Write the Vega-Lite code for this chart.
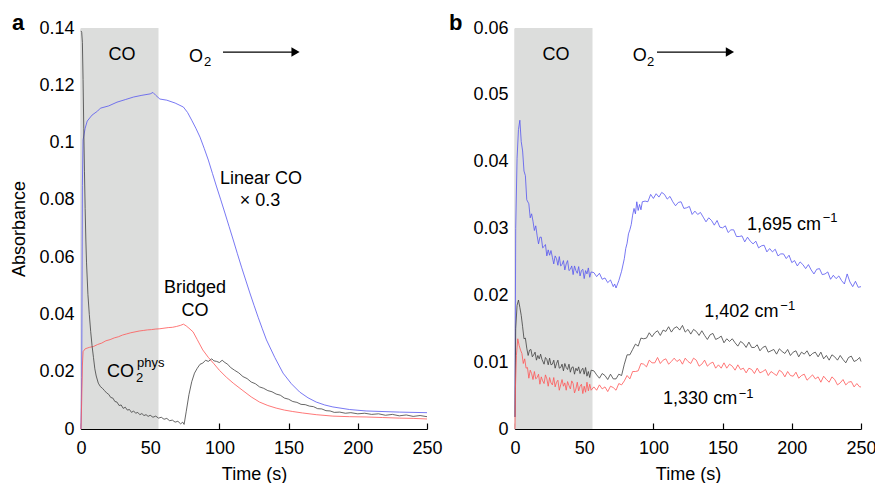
{
  "$schema": "https://vega.github.io/schema/vega-lite/v6.json",
  "padding": {"left": 10, "top": 12, "right": 0, "bottom": 0},
  "spacing": 5,
  "config": {
    "view": {"stroke": null},
    "font": "Liberation Sans",
    "axis": {"grid": false, "labelFontSize": 18, "titleFontSize": 18, "titleFontWeight": "normal", "labelColor": "#000", "titleColor": "#000", "domainColor": "#000", "tickColor": "#000", "domainWidth": 1.2, "tickWidth": 1.2, "labelFont": "Liberation Sans", "titleFont": "Liberation Sans"},
    "text": {"font": "Liberation Sans", "color": "#000"}
  },
  "datasets": {
    "A": [
      {"s":"blue","t":0,"v":0},{"s":"blue","t":0.5,"v":0.018},{"s":"blue","t":1,"v":0.085},{"s":"blue","t":1.5,"v":0.1009},{"s":"blue","t":3,"v":0.105},{"s":"blue","t":4.5,"v":0.1075},{"s":"blue","t":8,"v":0.1096},{"s":"blue","t":12,"v":0.111},{"s":"blue","t":14,"v":0.112},{"s":"blue","t":20,"v":0.1128},{"s":"blue","t":26,"v":0.1141},{"s":"blue","t":32,"v":0.115},{"s":"blue","t":38,"v":0.1159},{"s":"blue","t":44,"v":0.1165},{"s":"blue","t":50,"v":0.117},{"s":"blue","t":52,"v":0.1175},{"s":"blue","t":54,"v":0.1165},{"s":"blue","t":57,"v":0.1152},{"s":"blue","t":62,"v":0.1148},{"s":"blue","t":68,"v":0.1138},{"s":"blue","t":74,"v":0.1124},{"s":"blue","t":77,"v":0.1105},{"s":"blue","t":80,"v":0.1078},{"s":"blue","t":83,"v":0.105},{"s":"blue","t":86,"v":0.1019},{"s":"blue","t":89,"v":0.098},{"s":"blue","t":92,"v":0.0939},{"s":"blue","t":95,"v":0.0892},{"s":"blue","t":98,"v":0.0845},{"s":"blue","t":101,"v":0.08},{"s":"blue","t":104,"v":0.0754},{"s":"blue","t":107,"v":0.0707},{"s":"blue","t":110,"v":0.066},{"s":"blue","t":113,"v":0.0612},{"s":"blue","t":116,"v":0.0565},{"s":"blue","t":119,"v":0.052},{"s":"blue","t":122,"v":0.0475},{"s":"blue","t":125,"v":0.0432},{"s":"blue","t":128,"v":0.039},{"s":"blue","t":131,"v":0.035},{"s":"blue","t":134,"v":0.0311},{"s":"blue","t":140,"v":0.025},{"s":"blue","t":146,"v":0.0195},{"s":"blue","t":152,"v":0.0158},{"s":"blue","t":158,"v":0.0129},{"s":"blue","t":164,"v":0.0109},{"s":"blue","t":170,"v":0.0094},{"s":"blue","t":176,"v":0.0084},{"s":"blue","t":182,"v":0.0077},{"s":"blue","t":194,"v":0.0068},{"s":"blue","t":206,"v":0.0063},{"s":"blue","t":230,"v":0.0059},{"s":"blue","t":250,"v":0.0057},
      {"s":"red","t":0,"v":0},{"s":"red","t":0.5,"v":0.01},{"s":"red","t":1,"v":0.022},{"s":"red","t":1.5,"v":0.027},{"s":"red","t":3,"v":0.028},{"s":"red","t":6,"v":0.0285},{"s":"red","t":9,"v":0.0288},{"s":"red","t":12,"v":0.0295},{"s":"red","t":15,"v":0.03},{"s":"red","t":18,"v":0.0308},{"s":"red","t":21,"v":0.0312},{"s":"red","t":24,"v":0.0318},{"s":"red","t":27,"v":0.0322},{"s":"red","t":30,"v":0.0328},{"s":"red","t":33,"v":0.0332},{"s":"red","t":36,"v":0.0336},{"s":"red","t":39,"v":0.0339},{"s":"red","t":42,"v":0.0342},{"s":"red","t":45,"v":0.0344},{"s":"red","t":48,"v":0.0346},{"s":"red","t":51,"v":0.0347},{"s":"red","t":54,"v":0.0349},{"s":"red","t":57,"v":0.035},{"s":"red","t":60,"v":0.0352},{"s":"red","t":63,"v":0.0354},{"s":"red","t":66,"v":0.0355},{"s":"red","t":69,"v":0.0358},{"s":"red","t":72,"v":0.0362},{"s":"red","t":74,"v":0.0366},{"s":"red","t":76,"v":0.036},{"s":"red","t":78,"v":0.0352},{"s":"red","t":81,"v":0.0339},{"s":"red","t":84,"v":0.0312},{"s":"red","t":88,"v":0.0276},{"s":"red","t":92,"v":0.025},{"s":"red","t":96,"v":0.0228},{"s":"red","t":100,"v":0.0205},{"s":"red","t":105,"v":0.0181},{"s":"red","t":110,"v":0.016},{"s":"red","t":117,"v":0.0134},{"s":"red","t":123,"v":0.0112},{"s":"red","t":129,"v":0.0094},{"s":"red","t":135,"v":0.0082},{"s":"red","t":141,"v":0.0073},{"s":"red","t":147,"v":0.0066},{"s":"red","t":153,"v":0.0061},{"s":"red","t":160,"v":0.0056},{"s":"red","t":170,"v":0.005},{"s":"red","t":182,"v":0.0045},{"s":"red","t":194,"v":0.0043},{"s":"red","t":206,"v":0.0042},{"s":"red","t":218,"v":0.004},{"s":"red","t":230,"v":0.0038},{"s":"red","t":240,"v":0.0037},{"s":"red","t":250,"v":0.0035},
      {"s":"black","t":0,"v":0.139},{"s":"black","t":0.5,"v":0.1385},{"s":"black","t":1,"v":0.135},{"s":"black","t":1.5,"v":0.122},{"s":"black","t":2,"v":0.105},{"s":"black","t":2.5,"v":0.09},{"s":"black","t":3,"v":0.077},{"s":"black","t":3.5,"v":0.066},{"s":"black","t":4,"v":0.058},{"s":"black","t":5,"v":0.047},{"s":"black","t":6,"v":0.04},{"s":"black","t":7,"v":0.034},{"s":"black","t":8,"v":0.029},{"s":"black","t":9,"v":0.025},{"s":"black","t":10,"v":0.021},{"s":"black","t":11,"v":0.0185},{"s":"black","t":12.5,"v":0.016},{"s":"black","t":14,"v":0.0148},{"s":"black","t":15.5,"v":0.0142},{"s":"black","t":17,"v":0.0134},{"s":"black","t":18.5,"v":0.0126},{"s":"black","t":20,"v":0.0121},{"s":"black","t":21.5,"v":0.011},{"s":"black","t":23,"v":0.0108},{"s":"black","t":24.5,"v":0.0096},{"s":"black","t":26,"v":0.0094},{"s":"black","t":27.5,"v":0.0082},{"s":"black","t":29,"v":0.0084},{"s":"black","t":30.5,"v":0.0072},{"s":"black","t":32,"v":0.0076},{"s":"black","t":33.5,"v":0.0066},{"s":"black","t":35,"v":0.0068},{"s":"black","t":36.5,"v":0.0058},{"s":"black","t":38,"v":0.0063},{"s":"black","t":39.5,"v":0.0055},{"s":"black","t":41,"v":0.0058},{"s":"black","t":42.5,"v":0.005},{"s":"black","t":44,"v":0.0054},{"s":"black","t":45.5,"v":0.0047},{"s":"black","t":47,"v":0.005},{"s":"black","t":48.5,"v":0.0044},{"s":"black","t":50,"v":0.0048},{"s":"black","t":52,"v":0.0041},{"s":"black","t":54,"v":0.0045},{"s":"black","t":56,"v":0.0038},{"s":"black","t":58,"v":0.0041},{"s":"black","t":60,"v":0.0034},{"s":"black","t":62,"v":0.0037},{"s":"black","t":64,"v":0.0029},{"s":"black","t":66,"v":0.0031},{"s":"black","t":68,"v":0.0024},{"s":"black","t":70,"v":0.0027},{"s":"black","t":72,"v":0.0018},{"s":"black","t":73.5,"v":0.0024},{"s":"black","t":74.5,"v":0.0016},{"s":"black","t":76,"v":0.006},{"s":"black","t":78,"v":0.012},{"s":"black","t":80,"v":0.0165},{"s":"black","t":82,"v":0.0195},{"s":"black","t":84,"v":0.0212},{"s":"black","t":86,"v":0.0226},{"s":"black","t":88,"v":0.023},{"s":"black","t":90,"v":0.024},{"s":"black","t":92,"v":0.0236},{"s":"black","t":94.5,"v":0.0245},{"s":"black","t":96,"v":0.0238},{"s":"black","t":98,"v":0.0236},{"s":"black","t":100,"v":0.0232},{"s":"black","t":102,"v":0.024},{"s":"black","t":104,"v":0.0232},{"s":"black","t":106,"v":0.0226},{"s":"black","t":108,"v":0.0215},{"s":"black","t":111,"v":0.0205},{"s":"black","t":114,"v":0.0196},{"s":"black","t":117,"v":0.0183},{"s":"black","t":120,"v":0.0176},{"s":"black","t":123,"v":0.0164},{"s":"black","t":126,"v":0.0158},{"s":"black","t":129,"v":0.0147},{"s":"black","t":132,"v":0.0142},{"s":"black","t":135,"v":0.0134},{"s":"black","t":138,"v":0.013},{"s":"black","t":141,"v":0.0122},{"s":"black","t":144,"v":0.0118},{"s":"black","t":147,"v":0.0108},{"s":"black","t":150,"v":0.0104},{"s":"black","t":153,"v":0.0096},{"s":"black","t":156,"v":0.0093},{"s":"black","t":159,"v":0.0086},{"s":"black","t":162,"v":0.0085},{"s":"black","t":165,"v":0.008},{"s":"black","t":168,"v":0.0078},{"s":"black","t":171,"v":0.0071},{"s":"black","t":174,"v":0.007},{"s":"black","t":177,"v":0.0064},{"s":"black","t":180,"v":0.0063},{"s":"black","t":183,"v":0.0058},{"s":"black","t":187,"v":0.0059},{"s":"black","t":191,"v":0.0055},{"s":"black","t":195,"v":0.0057},{"s":"black","t":200,"v":0.0053},{"s":"black","t":205,"v":0.0055},{"s":"black","t":210,"v":0.0051},{"s":"black","t":215,"v":0.0053},{"s":"black","t":220,"v":0.0048},{"s":"black","t":225,"v":0.0051},{"s":"black","t":230,"v":0.0046},{"s":"black","t":235,"v":0.0049},{"s":"black","t":240,"v":0.0044},{"s":"black","t":245,"v":0.0047},{"s":"black","t":250,"v":0.0043}
    ],
    "B": [
      {"s":"blue","t":0,"v":0.0018},{"s":"blue","t":0.5,"v":0.03},{"s":"blue","t":1.5,"v":0.0405},{"s":"blue","t":2.5,"v":0.0448},{"s":"blue","t":3.5,"v":0.0462},{"s":"blue","t":4.5,"v":0.043},{"s":"blue","t":5.5,"v":0.0416},{"s":"blue","t":6.5,"v":0.0386},{"s":"blue","t":7.5,"v":0.0379},{"s":"blue","t":8.5,"v":0.0343},{"s":"blue","t":10,"v":0.0337},{"s":"blue","t":11,"v":0.0316},{"s":"blue","t":12,"v":0.0322},{"s":"blue","t":13,"v":0.0311},{"s":"blue","t":14,"v":0.0297},{"s":"blue","t":15,"v":0.0304},{"s":"blue","t":16,"v":0.0289},{"s":"blue","t":17,"v":0.0277},{"s":"blue","t":18,"v":0.0287},{"s":"blue","t":19,"v":0.0287},{"s":"blue","t":20,"v":0.0271},{"s":"blue","t":21,"v":0.0273},{"s":"blue","t":22,"v":0.0276},{"s":"blue","t":23,"v":0.0259},{"s":"blue","t":24,"v":0.0268},{"s":"blue","t":25,"v":0.026},{"s":"blue","t":26,"v":0.0267},{"s":"blue","t":27,"v":0.0257},{"s":"blue","t":28,"v":0.0247},{"s":"blue","t":29,"v":0.0259},{"s":"blue","t":30,"v":0.0255},{"s":"blue","t":31,"v":0.0245},{"s":"blue","t":32,"v":0.0258},{"s":"blue","t":33,"v":0.0244},{"s":"blue","t":34,"v":0.0246},{"s":"blue","t":35,"v":0.0252},{"s":"blue","t":36,"v":0.0238},{"s":"blue","t":37,"v":0.0247},{"s":"blue","t":38,"v":0.0252},{"s":"blue","t":39,"v":0.0237},{"s":"blue","t":40,"v":0.0239},{"s":"blue","t":41,"v":0.0244},{"s":"blue","t":42,"v":0.0231},{"s":"blue","t":43,"v":0.0244},{"s":"blue","t":44,"v":0.0237},{"s":"blue","t":45,"v":0.0233},{"s":"blue","t":46,"v":0.0243},{"s":"blue","t":47,"v":0.0229},{"s":"blue","t":48,"v":0.0237},{"s":"blue","t":49,"v":0.0239},{"s":"blue","t":50,"v":0.0225},{"s":"blue","t":51,"v":0.0237},{"s":"blue","t":52,"v":0.0232},{"s":"blue","t":53,"v":0.0241},{"s":"blue","t":54,"v":0.0227},{"s":"blue","t":55,"v":0.0235},{"s":"blue","t":57,"v":0.0234},{"s":"blue","t":59,"v":0.0228},{"s":"blue","t":61,"v":0.0233},{"s":"blue","t":63,"v":0.0224},{"s":"blue","t":65,"v":0.0226},{"s":"blue","t":67,"v":0.0219},{"s":"blue","t":69,"v":0.0223},{"s":"blue","t":70,"v":0.0218},{"s":"blue","t":71,"v":0.0213},{"s":"blue","t":72,"v":0.0217},{"s":"blue","t":73,"v":0.0211},{"s":"blue","t":75,"v":0.0222},{"s":"blue","t":77,"v":0.0236},{"s":"blue","t":79,"v":0.0255},{"s":"blue","t":80,"v":0.027},{"s":"blue","t":81,"v":0.0278},{"s":"blue","t":82,"v":0.0292},{"s":"blue","t":83,"v":0.0298},{"s":"blue","t":84,"v":0.0306},{"s":"blue","t":85,"v":0.032},{"s":"blue","t":86,"v":0.033},{"s":"blue","t":87,"v":0.0322},{"s":"blue","t":88,"v":0.034},{"s":"blue","t":89,"v":0.0327},{"s":"blue","t":90,"v":0.0336},{"s":"blue","t":91,"v":0.0328},{"s":"blue","t":92,"v":0.034},{"s":"blue","t":94,"v":0.0341},{"s":"blue","t":96,"v":0.034},{"s":"blue","t":98,"v":0.0351},{"s":"blue","t":100,"v":0.0345},{"s":"blue","t":102,"v":0.0352},{"s":"blue","t":104,"v":0.0347},{"s":"blue","t":106,"v":0.0354},{"s":"blue","t":108,"v":0.0351},{"s":"blue","t":110,"v":0.0344},{"s":"blue","t":112,"v":0.0348},{"s":"blue","t":114,"v":0.034},{"s":"blue","t":116,"v":0.0334},{"s":"blue","t":118,"v":0.0339},{"s":"blue","t":120,"v":0.034},{"s":"blue","t":122,"v":0.033},{"s":"blue","t":124,"v":0.0331},{"s":"blue","t":126,"v":0.0333},{"s":"blue","t":128,"v":0.0321},{"s":"blue","t":130,"v":0.0326},{"s":"blue","t":132,"v":0.0321},{"s":"blue","t":134,"v":0.0324},{"s":"blue","t":136,"v":0.0317},{"s":"blue","t":138,"v":0.031},{"s":"blue","t":140,"v":0.0316},{"s":"blue","t":142,"v":0.0312},{"s":"blue","t":144,"v":0.0305},{"s":"blue","t":146,"v":0.0312},{"s":"blue","t":148,"v":0.0302},{"s":"blue","t":150,"v":0.0301},{"s":"blue","t":152,"v":0.0304},{"s":"blue","t":154,"v":0.0294},{"s":"blue","t":156,"v":0.0298},{"s":"blue","t":158,"v":0.0298},{"s":"blue","t":160,"v":0.0288},{"s":"blue","t":162,"v":0.0288},{"s":"blue","t":164,"v":0.0289},{"s":"blue","t":166,"v":0.028},{"s":"blue","t":168,"v":0.0287},{"s":"blue","t":170,"v":0.0281},{"s":"blue","t":172,"v":0.0277},{"s":"blue","t":174,"v":0.0281},{"s":"blue","t":176,"v":0.0271},{"s":"blue","t":178,"v":0.0274},{"s":"blue","t":180,"v":0.0275},{"s":"blue","t":182,"v":0.0265},{"s":"blue","t":184,"v":0.027},{"s":"blue","t":186,"v":0.0265},{"s":"blue","t":188,"v":0.0269},{"s":"blue","t":190,"v":0.0259},{"s":"blue","t":192,"v":0.0262},{"s":"blue","t":194,"v":0.0262},{"s":"blue","t":196,"v":0.0255},{"s":"blue","t":198,"v":0.026},{"s":"blue","t":200,"v":0.0249},{"s":"blue","t":202,"v":0.0252},{"s":"blue","t":204,"v":0.0244},{"s":"blue","t":206,"v":0.025},{"s":"blue","t":208,"v":0.0246},{"s":"blue","t":210,"v":0.024},{"s":"blue","t":212,"v":0.0246},{"s":"blue","t":214,"v":0.0238},{"s":"blue","t":216,"v":0.0232},{"s":"blue","t":218,"v":0.0239},{"s":"blue","t":220,"v":0.024},{"s":"blue","t":222,"v":0.0231},{"s":"blue","t":224,"v":0.0232},{"s":"blue","t":226,"v":0.0235},{"s":"blue","t":228,"v":0.0224},{"s":"blue","t":230,"v":0.023},{"s":"blue","t":232,"v":0.0225},{"s":"blue","t":234,"v":0.0229},{"s":"blue","t":236,"v":0.0222},{"s":"blue","t":238,"v":0.0217},{"s":"blue","t":240,"v":0.0232},{"s":"blue","t":242,"v":0.022},{"s":"blue","t":244,"v":0.0213},{"s":"blue","t":246,"v":0.0221},{"s":"blue","t":248,"v":0.0212},{"s":"blue","t":250,"v":0.0213},
      {"s":"black","t":0,"v":0.0018},{"s":"black","t":0.5,"v":0.015},{"s":"black","t":1.5,"v":0.0185},{"s":"black","t":2.5,"v":0.0193},{"s":"black","t":3.5,"v":0.0182},{"s":"black","t":4.5,"v":0.017},{"s":"black","t":5.5,"v":0.0153},{"s":"black","t":6.5,"v":0.0135},{"s":"black","t":7.5,"v":0.0136},{"s":"black","t":8.5,"v":0.0121},{"s":"black","t":9.5,"v":0.011},{"s":"black","t":10.5,"v":0.0118},{"s":"black","t":11.5,"v":0.0119},{"s":"black","t":12.5,"v":0.0108},{"s":"black","t":13.5,"v":0.0111},{"s":"black","t":14.5,"v":0.0115},{"s":"black","t":15.5,"v":0.0103},{"s":"black","t":16.5,"v":0.011},{"s":"black","t":17.5,"v":0.0105},{"s":"black","t":18.5,"v":0.0112},{"s":"black","t":19.5,"v":0.0104},{"s":"black","t":21,"v":0.0097},{"s":"black","t":22,"v":0.0107},{"s":"black","t":23,"v":0.0104},{"s":"black","t":24,"v":0.0096},{"s":"black","t":25,"v":0.0106},{"s":"black","t":26,"v":0.0096},{"s":"black","t":27,"v":0.0097},{"s":"black","t":28,"v":0.0103},{"s":"black","t":29,"v":0.0091},{"s":"black","t":30,"v":0.0098},{"s":"black","t":31,"v":0.0103},{"s":"black","t":32,"v":0.0091},{"s":"black","t":33,"v":0.0092},{"s":"black","t":34,"v":0.0097},{"s":"black","t":35,"v":0.0087},{"s":"black","t":36,"v":0.0098},{"s":"black","t":37,"v":0.0092},{"s":"black","t":38,"v":0.0089},{"s":"black","t":39,"v":0.0097},{"s":"black","t":40,"v":0.0085},{"s":"black","t":41,"v":0.0092},{"s":"black","t":42,"v":0.0093},{"s":"black","t":43,"v":0.0082},{"s":"black","t":44,"v":0.0091},{"s":"black","t":45,"v":0.0087},{"s":"black","t":46,"v":0.0093},{"s":"black","t":47,"v":0.0083},{"s":"black","t":48,"v":0.0088},{"s":"black","t":49,"v":0.0091},{"s":"black","t":50,"v":0.0082},{"s":"black","t":51,"v":0.0092},{"s":"black","t":52,"v":0.0079},{"s":"black","t":53,"v":0.0086},{"s":"black","t":54,"v":0.0077},{"s":"black","t":55,"v":0.0088},{"s":"black","t":57,"v":0.0087},{"s":"black","t":59,"v":0.0081},{"s":"black","t":61,"v":0.0076},{"s":"black","t":63,"v":0.0083},{"s":"black","t":65,"v":0.008},{"s":"black","t":67,"v":0.0074},{"s":"black","t":69,"v":0.0082},{"s":"black","t":71,"v":0.0075},{"s":"black","t":73,"v":0.0075},{"s":"black","t":75,"v":0.0082},{"s":"black","t":77,"v":0.008},{"s":"black","t":79,"v":0.0097},{"s":"black","t":81,"v":0.0111},{"s":"black","t":83,"v":0.0111},{"s":"black","t":85,"v":0.0119},{"s":"black","t":87,"v":0.0127},{"s":"black","t":89,"v":0.0124},{"s":"black","t":91,"v":0.0136},{"s":"black","t":93,"v":0.0135},{"s":"black","t":95,"v":0.0136},{"s":"black","t":97,"v":0.0144},{"s":"black","t":99,"v":0.0138},{"s":"black","t":101,"v":0.0144},{"s":"black","t":103,"v":0.0147},{"s":"black","t":105,"v":0.014},{"s":"black","t":107,"v":0.0148},{"s":"black","t":109,"v":0.0146},{"s":"black","t":111,"v":0.0153},{"s":"black","t":113,"v":0.0145},{"s":"black","t":115,"v":0.0151},{"s":"black","t":117,"v":0.0153},{"s":"black","t":119,"v":0.0148},{"s":"black","t":121,"v":0.0155},{"s":"black","t":123,"v":0.0145},{"s":"black","t":125,"v":0.0149},{"s":"black","t":127,"v":0.0142},{"s":"black","t":129,"v":0.0149},{"s":"black","t":131,"v":0.0146},{"s":"black","t":133,"v":0.014},{"s":"black","t":135,"v":0.0147},{"s":"black","t":137,"v":0.014},{"s":"black","t":139,"v":0.0134},{"s":"black","t":141,"v":0.0141},{"s":"black","t":143,"v":0.0143},{"s":"black","t":145,"v":0.0134},{"s":"black","t":147,"v":0.0136},{"s":"black","t":149,"v":0.0139},{"s":"black","t":151,"v":0.0129},{"s":"black","t":153,"v":0.0135},{"s":"black","t":155,"v":0.0131},{"s":"black","t":157,"v":0.0135},{"s":"black","t":159,"v":0.0129},{"s":"black","t":161,"v":0.0124},{"s":"black","t":163,"v":0.0131},{"s":"black","t":165,"v":0.0128},{"s":"black","t":167,"v":0.0122},{"s":"black","t":169,"v":0.013},{"s":"black","t":171,"v":0.0122},{"s":"black","t":173,"v":0.0122},{"s":"black","t":175,"v":0.0126},{"s":"black","t":177,"v":0.0117},{"s":"black","t":179,"v":0.0122},{"s":"black","t":181,"v":0.0124},{"s":"black","t":183,"v":0.0115},{"s":"black","t":185,"v":0.0117},{"s":"black","t":187,"v":0.0119},{"s":"black","t":189,"v":0.0112},{"s":"black","t":191,"v":0.012},{"s":"black","t":193,"v":0.0116},{"s":"black","t":195,"v":0.0113},{"s":"black","t":197,"v":0.0119},{"s":"black","t":199,"v":0.011},{"s":"black","t":201,"v":0.0115},{"s":"black","t":203,"v":0.0117},{"s":"black","t":205,"v":0.0108},{"s":"black","t":207,"v":0.0115},{"s":"black","t":209,"v":0.0112},{"s":"black","t":211,"v":0.0117},{"s":"black","t":213,"v":0.0109},{"s":"black","t":215,"v":0.0113},{"s":"black","t":217,"v":0.0115},{"s":"black","t":219,"v":0.0108},{"s":"black","t":221,"v":0.0115},{"s":"black","t":223,"v":0.0105},{"s":"black","t":225,"v":0.011},{"s":"black","t":227,"v":0.0103},{"s":"black","t":229,"v":0.0111},{"s":"black","t":231,"v":0.0108},{"s":"black","t":233,"v":0.0103},{"s":"black","t":235,"v":0.011},{"s":"black","t":237,"v":0.0104},{"s":"black","t":239,"v":0.0099},{"s":"black","t":241,"v":0.0107},{"s":"black","t":243,"v":0.0109},{"s":"black","t":245,"v":0.0101},{"s":"black","t":247,"v":0.0103},{"s":"black","t":249,"v":0.0107},{"s":"black","t":250,"v":0.0101},
      {"s":"red","t":0,"v":0},{"s":"red","t":0.3,"v":0.006},{"s":"red","t":1,"v":0.011},{"s":"red","t":2,"v":0.0135},{"s":"red","t":3,"v":0.0125},{"s":"red","t":4,"v":0.0118},{"s":"red","t":5,"v":0.0113},{"s":"red","t":6,"v":0.0098},{"s":"red","t":7,"v":0.0105},{"s":"red","t":8,"v":0.0091},{"s":"red","t":9,"v":0.0092},{"s":"red","t":10,"v":0.0076},{"s":"red","t":11,"v":0.0088},{"s":"red","t":12,"v":0.0083},{"s":"red","t":13,"v":0.0074},{"s":"red","t":14,"v":0.0086},{"s":"red","t":15,"v":0.0075},{"s":"red","t":16,"v":0.0077},{"s":"red","t":17,"v":0.0082},{"s":"red","t":18,"v":0.0067},{"s":"red","t":19,"v":0.0078},{"s":"red","t":20,"v":0.0072},{"s":"red","t":21,"v":0.0068},{"s":"red","t":22,"v":0.0081},{"s":"red","t":23,"v":0.0075},{"s":"red","t":24,"v":0.0064},{"s":"red","t":25,"v":0.0077},{"s":"red","t":26,"v":0.0069},{"s":"red","t":27,"v":0.0066},{"s":"red","t":28,"v":0.0077},{"s":"red","t":29,"v":0.0063},{"s":"red","t":30,"v":0.007},{"s":"red","t":31,"v":0.0073},{"s":"red","t":32,"v":0.0058},{"s":"red","t":33,"v":0.0066},{"s":"red","t":34,"v":0.0074},{"s":"red","t":35,"v":0.0064},{"s":"red","t":36,"v":0.0069},{"s":"red","t":37,"v":0.0058},{"s":"red","t":38,"v":0.0071},{"s":"red","t":39,"v":0.0065},{"s":"red","t":40,"v":0.006},{"s":"red","t":41,"v":0.0072},{"s":"red","t":42,"v":0.0068},{"s":"red","t":43,"v":0.0054},{"s":"red","t":44,"v":0.006},{"s":"red","t":45,"v":0.007},{"s":"red","t":46,"v":0.0057},{"s":"red","t":47,"v":0.0064},{"s":"red","t":48,"v":0.0067},{"s":"red","t":49,"v":0.0053},{"s":"red","t":50,"v":0.0064},{"s":"red","t":51,"v":0.0055},{"s":"red","t":52,"v":0.007},{"s":"red","t":53,"v":0.0057},{"s":"red","t":54,"v":0.0067},{"s":"red","t":55,"v":0.0058},{"s":"red","t":57,"v":0.0063},{"s":"red","t":59,"v":0.0058},{"s":"red","t":61,"v":0.0066},{"s":"red","t":63,"v":0.006},{"s":"red","t":65,"v":0.0063},{"s":"red","t":67,"v":0.0056},{"s":"red","t":69,"v":0.0064},{"s":"red","t":71,"v":0.0062},{"s":"red","t":73,"v":0.0058},{"s":"red","t":75,"v":0.0068},{"s":"red","t":77,"v":0.0066},{"s":"red","t":79,"v":0.0072},{"s":"red","t":81,"v":0.008},{"s":"red","t":83,"v":0.0075},{"s":"red","t":85,"v":0.0086},{"s":"red","t":87,"v":0.0086},{"s":"red","t":89,"v":0.0087},{"s":"red","t":91,"v":0.0098},{"s":"red","t":93,"v":0.0097},{"s":"red","t":95,"v":0.0093},{"s":"red","t":97,"v":0.0103},{"s":"red","t":99,"v":0.0099},{"s":"red","t":101,"v":0.0099},{"s":"red","t":103,"v":0.0107},{"s":"red","t":105,"v":0.0098},{"s":"red","t":107,"v":0.0103},{"s":"red","t":109,"v":0.0105},{"s":"red","t":111,"v":0.0097},{"s":"red","t":113,"v":0.0101},{"s":"red","t":115,"v":0.0106},{"s":"red","t":117,"v":0.0101},{"s":"red","t":119,"v":0.0104},{"s":"red","t":121,"v":0.0097},{"s":"red","t":123,"v":0.0106},{"s":"red","t":125,"v":0.0101},{"s":"red","t":127,"v":0.0098},{"s":"red","t":129,"v":0.0106},{"s":"red","t":131,"v":0.0103},{"s":"red","t":133,"v":0.0094},{"s":"red","t":135,"v":0.0097},{"s":"red","t":137,"v":0.0103},{"s":"red","t":139,"v":0.0094},{"s":"red","t":141,"v":0.0098},{"s":"red","t":143,"v":0.01},{"s":"red","t":145,"v":0.0091},{"s":"red","t":147,"v":0.0096},{"s":"red","t":149,"v":0.0091},{"s":"red","t":151,"v":0.0099},{"s":"red","t":153,"v":0.0091},{"s":"red","t":155,"v":0.0097},{"s":"red","t":157,"v":0.0094},{"s":"red","t":159,"v":0.0088},{"s":"red","t":161,"v":0.0096},{"s":"red","t":163,"v":0.0089},{"s":"red","t":165,"v":0.0091},{"s":"red","t":167,"v":0.0084},{"s":"red","t":169,"v":0.0091},{"s":"red","t":171,"v":0.0089},{"s":"red","t":173,"v":0.0083},{"s":"red","t":175,"v":0.0091},{"s":"red","t":177,"v":0.0084},{"s":"red","t":179,"v":0.0086},{"s":"red","t":181,"v":0.0089},{"s":"red","t":183,"v":0.008},{"s":"red","t":185,"v":0.0086},{"s":"red","t":187,"v":0.0083},{"s":"red","t":189,"v":0.008},{"s":"red","t":191,"v":0.0088},{"s":"red","t":193,"v":0.0085},{"s":"red","t":195,"v":0.0078},{"s":"red","t":197,"v":0.0086},{"s":"red","t":199,"v":0.008},{"s":"red","t":201,"v":0.0079},{"s":"red","t":203,"v":0.0085},{"s":"red","t":205,"v":0.0076},{"s":"red","t":207,"v":0.008},{"s":"red","t":209,"v":0.0082},{"s":"red","t":211,"v":0.0073},{"s":"red","t":213,"v":0.0077},{"s":"red","t":215,"v":0.0081},{"s":"red","t":217,"v":0.0075},{"s":"red","t":219,"v":0.0078},{"s":"red","t":221,"v":0.007},{"s":"red","t":223,"v":0.0079},{"s":"red","t":225,"v":0.0074},{"s":"red","t":227,"v":0.007},{"s":"red","t":229,"v":0.0078},{"s":"red","t":231,"v":0.0074},{"s":"red","t":233,"v":0.0066},{"s":"red","t":235,"v":0.0069},{"s":"red","t":237,"v":0.0074},{"s":"red","t":239,"v":0.0066},{"s":"red","t":241,"v":0.007},{"s":"red","t":243,"v":0.0071},{"s":"red","t":245,"v":0.0063},{"s":"red","t":247,"v":0.0068},{"s":"red","t":249,"v":0.0063},{"s":"red","t":250,"v":0.0063}
    ]
  },
  "hconcat": [
    {
      "width": 346,
      "height": 401,
      "encoding": {
        "x": {"field": "t", "type": "quantitative", "scale": {"domain": [0, 250], "nice": false},
              "axis": {"title": "Time (s)", "values": [0, 50, 100, 150, 200, 250], "tickSize": -6, "labelPadding": 16, "labelFlush": false, "titlePadding": 8, "titleFontWeight": "normal"}},
        "y": {"field": "v", "type": "quantitative", "scale": {"domain": [0, 0.14], "nice": false},
              "axis": {"title": "Absorbance", "values": [0, 0.02, 0.04, 0.06, 0.08, 0.1, 0.12, 0.14], "format": "~g", "ticks": false, "labelPadding": 7, "titlePadding": 10, "titleFontWeight": "normal"}}
      },
      "layer": [
        {"data": {"values": [{"t": 0, "t2": 56, "v": 0.14}]}, "mark": {"type": "rect", "color": "#dcdddc"},
         "encoding": {"x2": {"field": "t2"}, "y2": {"datum": 0}}},
        {"data": {"name": "A"}, "mark": {"type": "line", "strokeWidth": 0.8},
         "encoding": {"color": {"field": "s", "type": "nominal", "scale": {"domain": ["blue", "red", "black"], "range": ["#5555f0", "#ff5555", "#404040"]}, "legend": null}}},
        {"data": {"values": [{"label": "CO", "t": 29.6, "v": 0.1288}, {"label": "Linear CO", "t": 130, "v": 0.0855}, {"label": "× 0.3", "t": 129.3, "v": 0.0778}, {"label": "Bridged", "t": 82.4, "v": 0.0474}, {"label": "CO", "t": 82.4, "v": 0.0395}]},
         "mark": {"type": "text", "fontSize": 18, "align": "center", "baseline": "alphabetic"},
         "encoding": {"text": {"field": "label"}}},
        {"data": {"values": [{"label": "O", "t": 78, "v": 0.1282}, {"label": "CO", "t": 18.8, "v": 0.01826}]},
         "mark": {"type": "text", "fontSize": 18, "align": "left", "baseline": "alphabetic"},
         "encoding": {"text": {"field": "label"}}},
        {"data": {"values": [{"label": "2", "t": 88.9, "v": 0.1268}, {"label": "2", "t": 39.7, "v": 0.0165}, {"label": "phys", "t": 40.5, "v": 0.0217}]},
         "mark": {"type": "text", "fontSize": 13, "align": "left", "baseline": "alphabetic"},
         "encoding": {"text": {"field": "label"}}},
        {"data": {"values": [{"label": "a", "t": -49.9, "v": 0.1393}]},
         "mark": {"type": "text", "fontSize": 22, "fontWeight": "bold", "align": "left", "baseline": "alphabetic"},
         "encoding": {"text": {"field": "label"}}},
        {"data": {"values": [{"t": 102.6, "t2": 153, "v": 0.1316}]},
         "mark": {"type": "rule", "color": "#000", "strokeWidth": 1.2},
         "encoding": {"x2": {"field": "t2"}}},
        {"data": {"values": [{"t": 155, "v": 0.1316}]},
         "mark": {"type": "point", "shape": "triangle-right", "filled": true, "color": "#000", "size": 90, "opacity": 1},
         "encoding": {}}
      ]
    },
    {
      "width": 346,
      "height": 401,
      "encoding": {
        "x": {"field": "t", "type": "quantitative", "scale": {"domain": [0, 250], "nice": false},
              "axis": {"title": "Time (s)", "values": [0, 50, 100, 150, 200, 250], "tickSize": -6, "labelPadding": 16, "labelFlush": false, "titlePadding": 8, "titleFontWeight": "normal"}},
        "y": {"field": "v", "type": "quantitative", "scale": {"domain": [0, 0.06], "nice": false},
              "axis": {"title": null, "values": [0, 0.01, 0.02, 0.03, 0.04, 0.05, 0.06], "format": "~g", "ticks": false, "labelPadding": 7}}
      },
      "layer": [
        {"data": {"values": [{"t": 0, "t2": 56, "v": 0.06}]}, "mark": {"type": "rect", "color": "#dcdddc"},
         "encoding": {"x2": {"field": "t2"}, "y2": {"datum": 0}}},
        {"data": {"name": "B"}, "mark": {"type": "line", "strokeWidth": 0.8},
         "encoding": {"color": {"field": "s", "type": "nominal", "scale": {"domain": ["blue", "red", "black"], "range": ["#5555f0", "#ff5555", "#404040"]}, "legend": null}}},
        {"data": {"values": [{"label": "CO", "t": 29.6, "v": 0.0552}]},
         "mark": {"type": "text", "fontSize": 18, "align": "center", "baseline": "alphabetic"},
         "encoding": {"text": {"field": "label"}}},
        {"data": {"values": [{"label": "O", "t": 85, "v": 0.055}, {"label": "1,695 cm", "t": 167.6, "v": 0.02977}, {"label": "1,402 cm", "t": 136.8, "v": 0.0168}, {"label": "1,330 cm", "t": 107, "v": 0.0037}]},
         "mark": {"type": "text", "fontSize": 18, "align": "left", "baseline": "alphabetic"},
         "encoding": {"text": {"field": "label"}}},
        {"data": {"values": [{"label": "2", "t": 95.4, "v": 0.05435}, {"label": "−1", "t": 222.3, "v": 0.031}, {"label": "−1", "t": 191.7, "v": 0.0178}, {"label": "−1", "t": 161.6, "v": 0.0046}]},
         "mark": {"type": "text", "fontSize": 13, "align": "left", "baseline": "alphabetic"},
         "encoding": {"text": {"field": "label"}}},
        {"data": {"values": [{"label": "b", "t": -47.7, "v": 0.0597}]},
         "mark": {"type": "text", "fontSize": 22, "fontWeight": "bold", "align": "left", "baseline": "alphabetic"},
         "encoding": {"text": {"field": "label"}}},
        {"data": {"values": [{"t": 102.6, "t2": 153, "v": 0.0564}]},
         "mark": {"type": "rule", "color": "#000", "strokeWidth": 1.2},
         "encoding": {"x2": {"field": "t2"}}},
        {"data": {"values": [{"t": 155.3, "v": 0.0564}]},
         "mark": {"type": "point", "shape": "triangle-right", "filled": true, "color": "#000", "size": 90, "opacity": 1},
         "encoding": {}}
      ]
    }
  ]
}
